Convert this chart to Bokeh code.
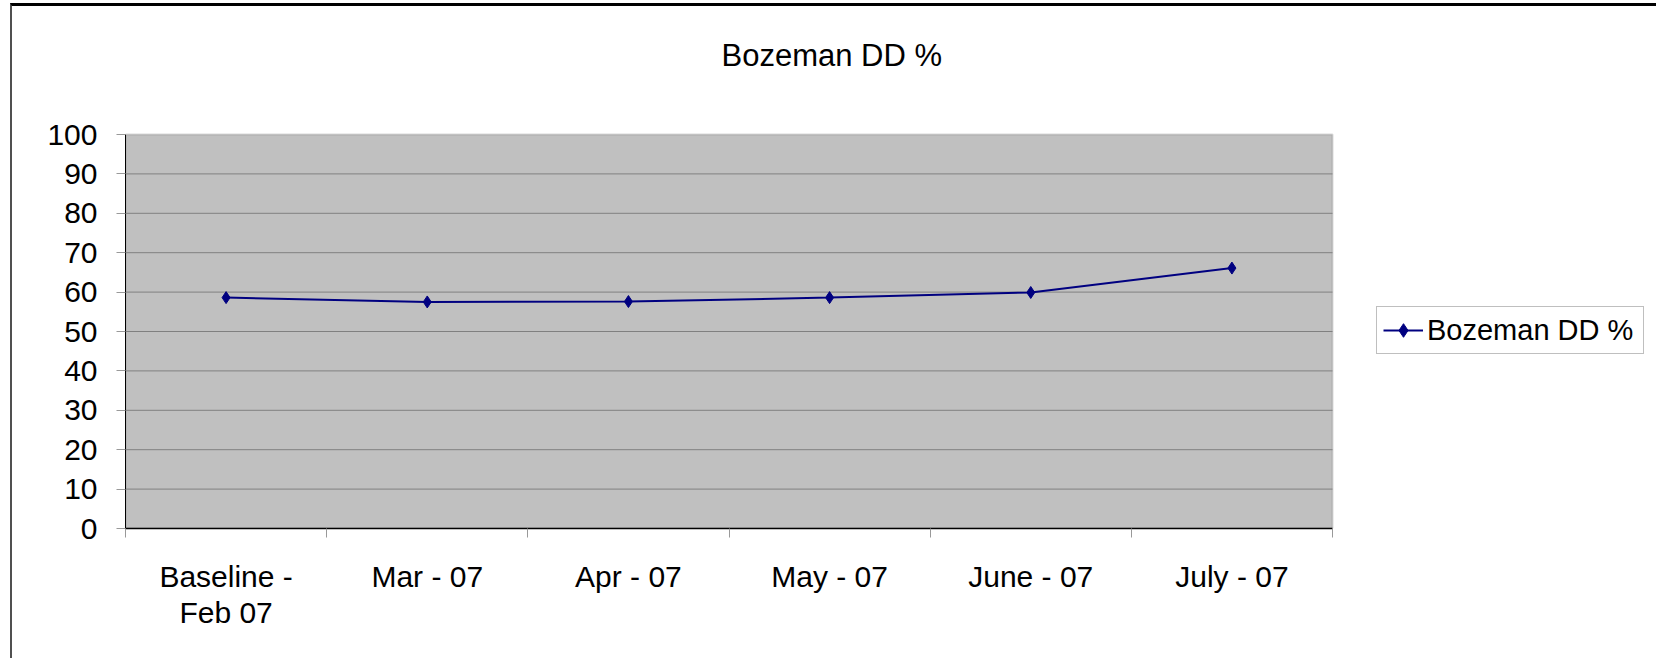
from bokeh.plotting import figure
from bokeh.models import Range1d, FixedTicker, Legend, LegendItem, BoxAnnotation, Label
from bokeh.embed import file_html
from bokeh.resources import INLINE

# ---- data ----
categories = ["Baseline -\nFeb 07", "Mar - 07", "Apr - 07", "May - 07", "June - 07", "July - 07"]
values = [58.6, 57.5, 57.6, 58.6, 59.9, 66.1]
y_ticks = [0, 10, 20, 30, 40, 50, 60, 70, 80, 90, 100]
series_name = "Bozeman DD %"
chart_title = "Bozeman DD %"

# category centres and boundaries on a numeric axis
n = len(categories)
x_pos = [i + 0.5 for i in range(n)]
x_bounds = list(range(n + 1))
y_min, y_max = y_ticks[0], y_ticks[-1]

FONT = "Liberation Sans"

# the frame also covers the title / legend area; the plot area itself is 0..n x 0..100
p = figure(
    width=1646, height=655,
    output_backend="svg", toolbar_location=None,
    x_range=Range1d(0, n * 1533 / 1207), y_range=Range1d(y_min, y_max * 522 / 394),
    min_border_left=113, min_border_right=0, min_border_top=0, min_border_bottom=133,
    background_fill_color="white", border_fill_color="white",
    outline_line_color=None,
    styles={"margin-left": "10px", "margin-top": "3px",
            "border-left": "2px solid #505050", "border-top": "3px solid #000000"},
)

# plot area background and border
p.add_layout(BoxAnnotation(left=0, right=n, bottom=y_min, top=y_max,
                           fill_color="#C0C0C0", fill_alpha=1,
                           line_color="#808080", line_width=2, level="underlay"))

# grid lines (limited to the plot area)
p.xgrid.visible = False
p.ygrid.visible = False
gy = y_ticks[1:-1]
p.segment(x0=[0] * len(gy), y0=gy, x1=[n] * len(gy), y1=gy,
          line_color="#808080", line_width=1)

# y axis
p.yaxis.ticker = FixedTicker(ticks=y_ticks)
p.yaxis.bounds = (y_min, y_max)
p.yaxis.axis_line_color = "black"
p.yaxis.axis_line_width = 1
p.yaxis.major_tick_out = 9
p.yaxis.major_tick_in = 0
p.yaxis.major_tick_line_color = "#999999"
p.yaxis.minor_tick_line_color = None
p.yaxis.major_label_standoff = 19
p.yaxis.major_label_text_font = FONT
p.yaxis.major_label_text_font_size = "30px"
p.yaxis.major_label_text_color = "black"

# x axis: labels at centres, tick marks at boundaries
p.xaxis.ticker = FixedTicker(ticks=x_pos, minor_ticks=x_bounds)
p.xaxis.bounds = (0, n)
p.xaxis.major_label_overrides = {xp: c for xp, c in zip(x_pos, categories)}
p.xaxis.axis_line_color = "black"
p.xaxis.axis_line_width = 1.5
p.xaxis.major_tick_line_color = None
p.xaxis.major_tick_out = 9
p.xaxis.major_tick_in = 0
p.xaxis.minor_tick_out = 9
p.xaxis.minor_tick_in = 0
p.xaxis.minor_tick_line_color = "#999999"
p.xaxis.major_label_standoff = 22
p.xaxis.major_label_text_font = FONT
p.xaxis.major_label_text_font_size = "30px"
p.xaxis.major_label_text_color = "black"
p.xaxis.major_label_text_line_height = 1.12

# series
ln = p.line(x_pos, values, line_color="#000080", line_width=2)
sc = p.scatter(x_pos, values, marker="diamond", size=12,
               fill_color="#000080", line_color="#000080")

# title
p.add_layout(Label(x=3.511, y=120.1, text=chart_title, text_align="center",
                   text_baseline="alphabetic", text_font=FONT, text_font_size="31px",
                   text_color="black"))

legend = Legend(
    items=[LegendItem(label=series_name, renderers=[ln, sc])],
    location=(1251, 174),
    border_line_color="#808080", border_line_width=1,
    background_fill_color="white", background_fill_alpha=1,
    label_text_font=FONT, label_text_font_size="29px", label_text_color="black",
    glyph_width=40, glyph_height=34, label_height=34, label_width=210,
    label_standoff=4, padding=6, margin=0, spacing=0,
)
p.add_layout(legend)

open("out.html", "w").write(file_html(p, INLINE))
